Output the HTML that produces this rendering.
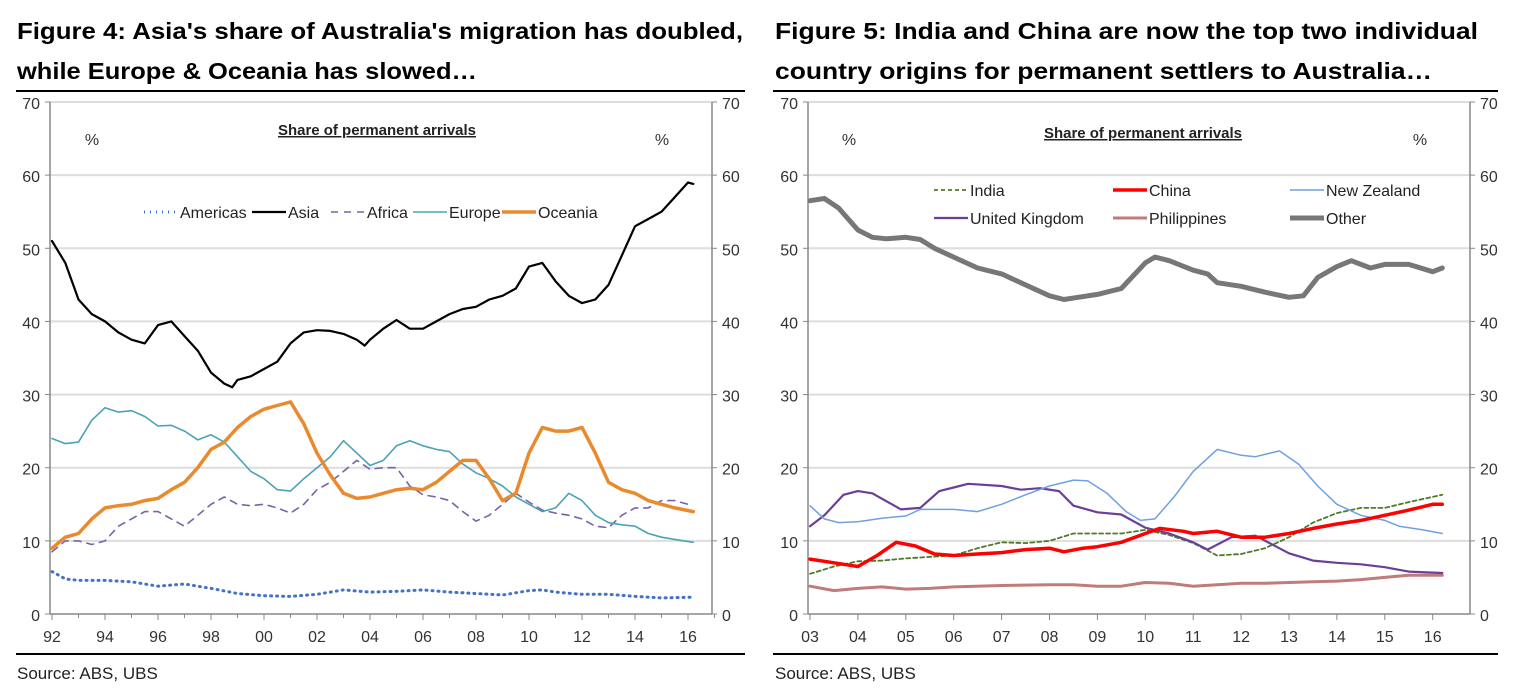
<!DOCTYPE html>
<html><head><meta charset="utf-8"><style>
html,body{margin:0;padding:0;background:#fff;}
svg{display:block;font-family:"Liberation Sans",sans-serif;}
</style></head><body>
<svg id="s" width="1519" height="696" viewBox="0 0 1519 696">
<text x="17" y="39" font-size="23" font-weight="bold" textLength="726" lengthAdjust="spacingAndGlyphs">Figure 4: Asia's share of Australia's migration has doubled,</text>
<text x="17" y="79" font-size="23" font-weight="bold" textLength="460" lengthAdjust="spacingAndGlyphs">while Europe &amp; Oceania has slowed…</text>
<text x="775" y="39" font-size="23" font-weight="bold" textLength="703" lengthAdjust="spacingAndGlyphs">Figure 5: India and China are now the top two individual</text>
<text x="775" y="79" font-size="23" font-weight="bold" textLength="657" lengthAdjust="spacingAndGlyphs">country origins for permanent settlers to Australia…</text>
<line x1="16" y1="91" x2="745" y2="91" stroke="#000" stroke-width="2"/>
<line x1="773" y1="91" x2="1498" y2="91" stroke="#000" stroke-width="2"/>
<line x1="16" y1="654" x2="745" y2="654" stroke="#000" stroke-width="2"/>
<line x1="773" y1="654" x2="1498" y2="654" stroke="#000" stroke-width="2"/>
<text x="17" y="679" font-size="17" fill="#222">Source: ABS, UBS</text>
<text x="775" y="679" font-size="17" fill="#222">Source: ABS, UBS</text>
<g id="c1"></g><g id="c2"></g>
</svg>
<script>
// ---- Figure 4 data (t = years since 1992) ----
const asiaT=[0,0.5,1,1.5,2,2.5,3,3.5,4,4.5,5,5.5,6,6.5,6.8,7,7.5,8,8.5,9,9.5,10,10.5,11,11.5,11.8,12,12.5,13,13.5,14,14.5,15,15.5,16,16.5,17,17.5,18,18.5,19,19.5,20,20.5,21,21.5,22,22.5,23,23.5,24,24.2];
const asiaV=[51,48,43,41,40,38.5,37.5,37,39.5,40,38,36,33,31.5,31,32,32.5,33.5,34.5,37,38.5,38.8,38.7,38.3,37.5,36.7,37.5,39,40.2,39,39,40,41,41.7,42,43,43.5,44.5,47.5,48,45.5,43.5,42.5,43,45,49,53,54,55,57,59,58.8];
const eurT=[0,0.5,1,1.5,2,2.5,3,3.5,4,4.5,5,5.5,6,6.5,7,7.5,8,8.5,9,9.5,10,10.5,11,11.5,12,12.5,13,13.5,14,14.5,15,15.5,16,16.5,17,17.5,18,18.5,19,19.5,20,20.5,21,21.5,22,22.5,23,23.5,24.2];
const eurV=[24,23.3,23.5,26.5,28.2,27.6,27.8,27,25.7,25.8,25,23.8,24.5,23.5,21.5,19.5,18.5,17,16.8,18.5,20,21.5,23.7,22,20.3,21,23,23.7,23,22.5,22.2,20.5,19.3,18.5,17.5,16,15,14,14.5,16.5,15.5,13.5,12.5,12.2,12,11,10.5,10.2,9.8];
const afrT=[0,0.5,1,1.5,2,2.5,3,3.5,4,4.5,5,5.5,6,6.5,7,7.5,8,8.5,9,9.5,10,10.5,11,11.5,12,12.5,13,13.5,14,14.5,15,15.5,16,16.5,17,17.5,18,18.5,19,19.5,20,20.5,21,21.5,22,22.5,23,23.5,24,24.2];
const afrV=[8.5,10,10,9.5,10,12,13,14,14,13,12,13.5,15,16,15,14.8,15,14.5,13.8,15,17,18,19.5,21,19.8,20,20,17.5,16.3,16,15.5,14,12.7,13.5,15,16.5,15.3,14.2,13.8,13.5,13,12,11.8,13.5,14.5,14.5,15.5,15.5,15,15];
const ocT=[0,0.5,1,1.5,2,2.5,3,3.5,4,4.5,5,5.5,6,6.5,7,7.5,8,8.5,9,9.5,10,10.5,11,11.5,12,12.5,13,13.5,14,14.5,15,15.5,16,16.5,17,17.5,18,18.5,19,19.5,20,20.5,21,21.5,22,22.5,23,23.5,24.2];
const ocV=[9,10.5,11,13,14.5,14.8,15,15.5,15.8,17,18,20,22.5,23.5,25.5,27,28,28.5,29,26,22,19,16.5,15.8,16,16.5,17,17.2,17,18,19.5,21,21,18.5,15.5,16.5,22,25.5,25,25,25.5,22,18,17,16.5,15.5,15,14.5,14];
const amT=[0,0.5,1,2,3,4,5,6,7,8,9,10,11,12,13,14,15,16,17,18,18.5,19,20,21,22,23,24.2];
const amV=[5.8,4.8,4.6,4.6,4.4,3.8,4.1,3.5,2.8,2.5,2.4,2.7,3.3,3.0,3.1,3.3,3.0,2.8,2.6,3.2,3.3,3.0,2.7,2.7,2.4,2.2,2.3];
const xTicks1=['92','94','96','98','00','02','04','06','08','10','12','14','16'];
const yTicks=[0,10,20,30,40,50,60,70];
// ---- Figure 5 data (t = years since 2003) ----
const othT=[0,0.3,0.6,1,1.3,1.6,2,2.3,2.6,3,3.5,4,4.5,5,5.3,5.6,6,6.5,7,7.2,7.5,8,8.3,8.5,9,9.5,10,10.3,10.6,11,11.3,11.7,12,12.5,13,13.2];
const othV=[56.5,56.8,55.5,52.5,51.5,51.3,51.5,51.2,50,48.8,47.3,46.5,45,43.5,43,43.3,43.7,44.5,48,48.8,48.3,47,46.5,45.3,44.8,44,43.3,43.5,46,47.5,48.3,47.3,47.8,47.8,46.8,47.3];
const nzT=[0,0.3,0.6,1,1.5,2,2.3,3,3.5,4,4.5,5,5.5,5.8,6.2,6.6,6.9,7.2,7.6,8,8.5,9,9.3,9.8,10.2,10.6,11,11.5,12,12.3,12.8,13.2];
const nzV=[14.8,13,12.5,12.6,13.1,13.4,14.3,14.3,14,15,16.3,17.5,18.3,18.2,16.5,14,12.8,13,16,19.5,22.5,21.7,21.5,22.3,20.5,17.5,15,13.5,12.8,12,11.5,11];
const ukT=[0,0.3,0.7,1,1.3,1.9,2.3,2.7,3,3.3,4,4.4,4.8,5.2,5.5,6,6.5,7,7.5,8,8.3,8.8,9.3,10,10.5,11,11.5,12,12.5,13.2];
const ukV=[12,13.5,16.3,16.8,16.5,14.3,14.5,16.8,17.3,17.8,17.5,17,17.2,16.8,14.8,13.9,13.6,11.8,11,9.8,8.8,10.5,10.7,8.3,7.3,7,6.8,6.4,5.8,5.6];
const indT=[0,0.5,1,1.5,2,2.5,3,3.5,4,4.5,5,5.5,6,6.5,7,7.5,8,8.5,9,9.5,10,10.5,11,11.5,12,12.5,13.2];
const indV=[5.5,6.5,7.2,7.3,7.6,7.8,8,9,9.8,9.7,10,11,11,11,11.5,10.8,9.7,8,8.2,9,10.5,12.5,13.8,14.5,14.5,15.3,16.3];
const chnT=[0,0.5,1,1.4,1.8,2.2,2.6,3,3.5,4,4.5,5,5.3,5.7,6,6.5,7,7.3,7.8,8,8.5,9,9.5,10,10.5,11,11.5,12,12.5,13,13.2];
const chnV=[7.5,7,6.5,8,9.8,9.3,8.2,8,8.2,8.4,8.8,9,8.5,9,9.2,9.8,11,11.7,11.3,11,11.3,10.5,10.5,11,11.7,12.3,12.8,13.5,14.2,15,15];
const phT=[0,0.5,1,1.5,2,2.5,3,4,5,5.5,6,6.5,7,7.5,8,8.5,9,9.5,10,10.5,11,11.5,12,12.5,13.2];
const phV=[3.8,3.2,3.5,3.7,3.4,3.5,3.7,3.9,4,4,3.8,3.8,4.3,4.2,3.8,4,4.2,4.2,4.3,4.4,4.5,4.7,5,5.3,5.3];
const xTicks2=['03','04','05','06','07','08','09','10','11','12','13','14','15','16'];

const NS='http://www.w3.org/2000/svg';
function mk(parent,tag,attrs){const e=document.createElementNS(NS,tag);for(const k in attrs)e.setAttribute(k,attrs[k]);parent.appendChild(e);return e;}
function txt(parent,x,y,s,attrs){const e=mk(parent,'text',Object.assign({x:x,y:y,'font-size':16,fill:'#333'},attrs||{}));e.textContent=s;return e;}

function frame(g,L,R,x0,step,ticks,name){
  const yS=v=>614-v*512/70;
  yTicks.forEach(v=>{
    if(v>0){const gl=mk(g,'line',{x1:L,x2:R,y1:yS(v),y2:yS(v),stroke:'#ddd','stroke-width':2});
    
    }
    mk(g,'line',{x1:L-5,x2:L,y1:yS(v),y2:yS(v),stroke:'#888'});
    mk(g,'line',{x1:R,x2:R+5,y1:yS(v),y2:yS(v),stroke:'#888'});
    const a=txt(g,L-10,yS(v)+7,String(v),{'text-anchor':'end'});
    
    
    const b=txt(g,R+10,yS(v)+7,String(v),{'text-anchor':'start'});
    
    
  });
  mk(g,'line',{x1:L,x2:L,y1:102,y2:614,stroke:'#888','stroke-width':1.5});
  mk(g,'line',{x1:R,x2:R,y1:102,y2:614,stroke:'#888','stroke-width':1.5});
  mk(g,'line',{x1:L,x2:R,y1:614,y2:614,stroke:'#888','stroke-width':1.5});
  ticks.forEach((s,i)=>{
    const x=x0+i*step;
    mk(g,'line',{x1:x,x2:x,y1:614,y2:620,stroke:'#888'});
    if(name==='l'){mk(g,'line',{x1:x+step/2,x2:x+step/2,y1:614,y2:618,stroke:'#888'});}
    const t=txt(g,x,642,s,{'text-anchor':'middle'});
    
    
  });
  return yS;
}
function line(g,T,V,xs,ys,attrs,nm){
  const d=T.map((t,i)=>(i?'L':'M')+xs(t).toFixed(1)+' '+ys(V[i]).toFixed(1)).join(' ');
  const p=mk(g,'path',Object.assign({d:d,fill:'none','stroke-linejoin':'round','stroke-linecap':'round'},attrs));
  
  
  return p;
}
function legend(g,x,y,s,attrs,nm){
  const l=mk(g,'line',Object.assign({x1:x,x2:x+34,y1:y,y2:y},attrs));
  
  
  const t=txt(g,x+36,y+6,s,{'font-size':16,fill:'#222'});
  
  
}
// Figure 4
const g1=document.getElementById('c1');
const x1s=t=>52+t*26.5;
const y1s=frame(g1,50,712,52,53,xTicks1,'l');
const st={americas:{stroke:'#4472c4','stroke-width':3,'stroke-dasharray':'1 5'},asia:{stroke:'#000','stroke-width':2.2},africa:{stroke:'#7b62a8','stroke-width':1.6,'stroke-dasharray':'7 6'},europe:{stroke:'#4aa3b5','stroke-width':1.6},oceania:{stroke:'#ea8a2e','stroke-width':3.5}};
line(g1,amT,amV,x1s,y1s,st.americas,'americas-line');
line(g1,afrT,afrV,x1s,y1s,st.africa,'africa-line');
line(g1,eurT,eurV,x1s,y1s,st.europe,'europe-line');
line(g1,ocT,ocV,x1s,y1s,st.oceania,'oceania-line');
line(g1,asiaT,asiaV,x1s,y1s,st.asia,'asia-line');
const h1=txt(g1,377,135,'Share of permanent arrivals',{'font-size':15,'font-weight':'bold','text-anchor':'middle',fill:'#222','text-decoration':'underline',textLength:198,lengthAdjust:'spacingAndGlyphs'});


txt(g1,92,145,'%',{'text-anchor':'middle'});
txt(g1,662,145,'%',{'text-anchor':'middle'});
legend(g1,144,212,'Americas',st.americas,'legend-americas');
legend(g1,252,212,'Asia',st.asia,'legend-asia');
legend(g1,331,212,'Africa',st.africa,'legend-africa');
legend(g1,413,212,'Europe',st.europe,'legend-europe');
legend(g1,502,212,'Oceania',st.oceania,'legend-oceania');
// Figure 5
const g2=document.getElementById('c2');
const x2s=t=>810+t*47.9;
const y2s=frame(g2,808,1470,810,47.9,xTicks2,'r');
const st2={india:{stroke:'#4f7a28','stroke-width':1.8,'stroke-dasharray':'4 3'},china:{stroke:'#f00','stroke-width':3.5},nz:{stroke:'#6fa0e0','stroke-width':1.5},uk:{stroke:'#6a3f98','stroke-width':2.2},ph:{stroke:'#b05a5a','stroke-width':3,'stroke-opacity':0.8},other:{stroke:'#777','stroke-width':5}};
line(g2,phT,phV,x2s,y2s,st2.ph,'philippines-line');
line(g2,indT,indV,x2s,y2s,st2.india,'india-line');
line(g2,ukT,ukV,x2s,y2s,st2.uk,'uk-line');
line(g2,nzT,nzV,x2s,y2s,st2.nz,'new-zealand-line');
line(g2,chnT,chnV,x2s,y2s,st2.china,'china-line');
line(g2,othT,othV,x2s,y2s,st2.other,'other-line');
const h2=txt(g2,1143,138,'Share of permanent arrivals',{'font-size':15,'font-weight':'bold','text-anchor':'middle',fill:'#222','text-decoration':'underline',textLength:198,lengthAdjust:'spacingAndGlyphs'});


txt(g2,849,145,'%',{'text-anchor':'middle'});
txt(g2,1420,145,'%',{'text-anchor':'middle'});
legend(g2,934,190,'India',st2.india,'legend-india');
legend(g2,1113,190,'China',st2.china,'legend-china');
legend(g2,1290,190,'New Zealand',st2.nz,'legend-new-zealand');
legend(g2,934,218,'United Kingdom',st2.uk,'legend-united-kingdom');
legend(g2,1113,218,'Philippines',st2.ph,'legend-philippines');
legend(g2,1290,218,'Other',st2.other,'legend-other');
</script>
</body></html>
